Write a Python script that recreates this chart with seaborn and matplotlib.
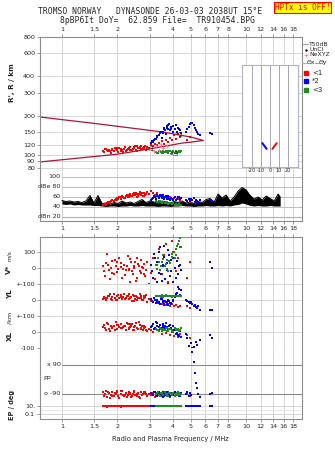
import numpy as np
import matplotlib
matplotlib.use("Agg")
import matplotlib.pyplot as plt
import seaborn as sns
from matplotlib.ticker import FixedLocator, NullLocator, FixedFormatter
from matplotlib.lines import Line2D

# ---------------- data ----------------
freq_ticks = [1, 1.5, 2, 3, 4, 5, 6, 7, 8, 10, 12, 14, 16, 18]
freq_labels = ['1', '1.5', '2', '3', '4', '5', '6', '7', '8', '10', '12', '14', '16', '18']
height_ticks = [80, 90, 100, 120, 150, 200, 300, 400, 600, 800]

# mode 1 (red) echoes
red_f = [1.68,1.70,1.73,1.76,1.80,1.84,1.88,1.92,1.96,2.00,2.04,2.08,2.12,2.17,2.22,2.27,2.32,2.37,2.42,2.47,
         2.52,2.58,2.64,2.70,2.76,2.82,2.90,2.97,3.05,3.12,3.20,3.28,3.38,3.48,3.58,3.68,3.78,3.88,3.98,4.08,
         4.18,4.28,4.38,4.75,4.95,
         1.71,1.78,1.86,1.94,2.02,2.10,2.19,2.25,2.30,2.35,2.40,2.45,2.50,2.55,2.61,2.67,2.73,2.79,2.85,1.82,
         1.99,2.14,2.34,2.56,2.78]
red_h = [108,106,111,109,110,105,112,107,111,109,113,107,110,112,108,111,114,109,112,115,110,113,116,111,114,
         118,116,113,120,117,122,119,124,128,122,132,126,136,130,142,134,146,138,132,137,
         112,107,109,113,106,111,115,109,112,116,110,113,117,108,114,118,112,115,110,108,114,106,110,117,112]
red_dbe = [44,46,45,48,50,52,55,53,57,58,60,56,62,59,63,61,65,62,67,64,68,63,70,66,62,65,70,66,72,68,64,69,62,
           65,60,63,58,61,56,59,55,57,53,52,50,
           47,51,54,55,57,61,58,64,60,66,63,69,65,61,67,64,68,63,66,49,55,60,63,66,69]
red_v = [10,-20,30,90,-10,0,45,-40,15,-25,60,5,-60,20,-15,75,-5,35,-35,10,-80,25,-20,50,0,-50,40,-100,-30,60,
         -70,20,120,-40,80,150,-90,30,170,100,-20,60,130,-60,40,
         -50,20,-30,50,-5,30,-45,10,-10,55,-20,0,40,-60,15,-30,5,25,-15,-70,35,-5,-90,65,-40]
red_yl = [8,20,2,15,28,5,18,35,0,22,12,30,8,40,15,25,5,18,30,-5,22,10,35,15,0,20,-10,5,-5,-15,0,-20,-12,-25,
          -18,-30,-22,-35,-28,-40,-32,-45,-38,-40,-48,
          12,25,0,10,30,18,5,22,35,12,-8,28,8,20,15,25,-2,10,30,38,3,20,10,0,25]
red_xl = [30,45,15,55,20,35,25,40,60,18,30,48,22,35,12,52,28,40,15,33,58,20,42,25,10,30,5,20,15,0,25,10,5,-10,
          15,-5,20,-20,0,-25,10,-30,-15,-20,-35,
          25,50,30,15,45,22,38,55,20,30,48,15,35,25,60,18,40,28,12,8,42,30,50,22,38]
red_pp = [-80,-100,-70,-110,-85,-95,-75,-105,-90,-80,-115,-88,-70,-100,-85,-95,-78,-108,-90,-72,-98,-86,-112,
          -80,-93,-76,-104,-88,-96,-82,-110,-90,-78,-100,-86,-94,-80,-106,-90,-84,-98,-76,-92,-88,-100,
          -92,-78,-104,-86,-100,-74,-96,-110,-82,-90,-102,-76,-94,-88,-106,-80,-98,-84,-92,-112,-70,-98,-86,
          -102,-80]
red_ep = [8,10,12,7,9,11,8,10,13,9,10,7,12,9,11,8,10,12,9,10,8,11,10,9,12,10,8,11,10,9,12,10,9,11,10,8,12,10,
          9,11,10,9,12,10,9,
          9,11,10,8,12,10,9,11,10,13,9,10,8,11,10,9,12,10,9,11,10,12,9,10,11]

# mode 2 (blue) echoes
nan = np.nan
blue_f = [3.05,3.12,3.18,3.24,3.30,3.36,3.42,3.48,3.54,3.60,3.66,3.72,3.78,3.84,3.92,4.02,4.12,4.20,4.28,4.36,
          4.42,4.72,4.80,4.88,4.95,5.02,5.10,5.18,5.25,5.32,5.40,5.50,5.60,6.40,6.50,
          3.10,3.20,3.28,3.38,3.45,3.52,3.58,3.64,3.70,3.76,3.82,3.90,4.00,4.15,4.32]
blue_h = [124,127,130,134,138,142,147,136,152,158,145,163,170,155,165,150,158,152,162,155,148,150,158,165,172,
          178,176,170,162,156,150,146,144,148,145,
          129,133,140,144,152,148,162,155,168,160,174,158,166,170,160]
blue_dbe = [55,58,62,57,64,60,65,59,63,58,62,56,60,55,58,54,60,57,61,56,59,55,53,57,52,56,54,58,51,55,53,50,54,
            55,52,
            57,60,63,59,62,65,57,61,58,63,56,59,57,55,60]
blue_v = [20,-60,90,-110,40,-30,130,-80,10,70,-120,-10,110,-50,50,-90,0,45,-40,20,-15,
          nan,nan,nan,nan,nan,nan,nan,nan,nan,nan,nan,nan,40,0,
          -20,60,-90,100,-40,20,140,-70,30,-100,80,-20,60,-60,10]
blue_yl = [5,-10,10,-20,0,-15,-25,8,-8,-30,-12,-22,0,-18,-28,-5,20,45,81,30,60,0,-8,-15,-20,-12,-28,-35,-30,
           -45,-52,-40,-60,-62,-65,
           -5,2,-12,-20,5,-10,-25,-5,-15,-30,-8,-20,-2,35,70]
blue_xl = [30,50,20,60,35,15,45,25,40,12,55,30,20,42,18,35,10,-5,-20,5,-30,-10,-40,-90,-110,-70,-100,-95,-120,
           -60,-80,-105,-50,-19,-38,
           40,25,55,30,18,48,22,35,28,15,38,25,10,-10,-25]
blue_pp = [-85,-95,-80,-105,-90,-75,-100,-88,-110,-82,-96,-78,-92,-104,-86,-98,-80,-94,-88,-102,-84,-92,-80,
           -100,-86,-96,170,110,40,-20,-50,-90,-110,-92,-86,
           -90,-80,-100,-86,-96,-78,-104,-88,-92,-84,-98,-82,-94,-90,-100]
blue_ep = [10,9,11,10,12,9,10,11,10,9,10,11,10,9,10,12,10,9,10,11,10,10,9,11,10,10,12,9,10,10,11,10,9,10,10,
           10,11,9,10,12,10,9,11,10,10,9,11,10,12,10]

# mode 3 (green) echoes
green_f = [3.25,3.32,3.40,3.48,3.55,3.62,3.70,3.78,3.86,3.94,4.02,4.10,4.18,4.26,4.32,4.38,4.44,
           3.28,3.36,3.44,3.52,3.66,3.74,3.82,3.98,4.14,4.22]
green_h = [106,104,108,105,107,106,108,105,107,106,108,105,107,106,108,106,107,
           105,107,106,104,107,106,108,105,106,104]
green_dbe = [52,50,53,49,51,48,50,47,49,46,48,45,47,44,46,45,44,
             51,52,50,50,49,49,48,47,46,45]
green_v = [20,60,-10,40,80,10,50,-20,30,70,100,60,120,150,170,185,130,
           -5,35,15,55,25,-5,45,90,80,140]
green_yl = [28,22,25,30,20,26,24,28,22,26,25,23,27,24,26,22,28,
            24,27,21,25,29,23,26,21,27,25]
green_xl = [20,10,25,5,18,12,28,8,20,15,0,22,10,18,5,15,25,
            15,8,20,12,25,5,18,10,20,12]
green_pp = [-90,-80,-100,-85,-95,-78,-92,-104,-86,-96,-82,-100,-88,-94,-84,-98,-90,
            -86,-96,-82,-94,-88,-100,-84,-92,-96,-86]
green_ep = [10,9,10,11,10,10,9,10,11,10,10,9,10,11,10,10,9,
            10,10,9,11,10,10,9,10,11,10]

# NeXYZ marks
nexyz_f = [3.15, 3.25, 3.35, 3.45, 3.55, 3.70]
nexyz_h = [108, 118, 110, 121, 113, 117]

# Theta x / Theta y wedge
wedge_f = [0.76, 1.51, 3.48, 5.0, 5.85, 5.0, 4.49, 3.0, 2.0, 0.76]
wedge_h = [196, 175, 151, 138, 130, 126, 124, 112, 102, 89]

# T50dB noise envelope
t50_f = [1.000,1.051,1.105,1.162,1.222,1.284,1.350,1.419,1.492,1.569,1.650,1.734,1.823,1.917,2.015,2.119,
         2.227,2.342,2.462,2.588,2.721,2.861,3.008,3.162,3.325,3.495,3.675,3.864,4.062,4.271,4.490,4.720,
         4.963,5.217,5.485,5.767,6.063,6.374,6.701,7.045,7.406,7.787,8.185,8.606,9.047,9.512,10.00,10.51,
         11.05,11.62,12.22,12.84,13.50,14.19,14.92,15.30]
t50_hi = [53,51,52,50,51,49,52,63,48,63,47,48,46,49,47,52,48,50,47,51,55,49,52,50,48,52,50,47,51,49,52,48,
          50,47,51,49,55,57,50,66,58,64,52,60,72,79,74,63,56,60,54,62,57,52,66,60]
t50_lo = [46,45,46,44,45,44,44,44,43,43,42,41,42,42,41,42,42,43,42,42,43,42,42,42,41,42,42,41,42,42,43,42,
          42,41,42,42,43,42,42,43,42,43,42,44,45,48,46,43,42,43,42,42,43,42,42,42]

# tilt inset
tilt_blue = [-8.5, -3.7]
tilt_blue_h = [124, 112]
tilt_red = [2.6, 7.4]
tilt_red_h = [112, 124]
tilt_ticks = [-20, -10, 0, 10, 20]

# ---------------- styling ----------------
sns.set_style("white")
plt.rcParams['font.family'] = ['DejaVu Sans']

W, H = 335, 451
fig = plt.figure(figsize=(W / 100, H / 100), dpi=100)

FRAME = '#8c8c8c'
GRID = '#d0d0d0'
RED, BLUE, GREEN = '#ff0000', '#0000ff', '#1e8c1e'
FS = 4.6
FMIN, FMAX = 0.76, 20.1
XL0 = (62 - 40) / 262.0
MS = 4


def rect(top, bottom, left=40, right=302):
    return [left / W, 1 - bottom / H, (right - left) / W, (bottom - top) / H]


def base(ax, top=False, bottom=False, show=True):
    ax.set_xscale('log')
    ax.set_xlim(FMIN, FMAX)
    ax.xaxis.set_major_locator(FixedLocator(freq_ticks))
    ax.xaxis.set_minor_locator(NullLocator())
    ax.xaxis.set_major_formatter(FixedFormatter(freq_labels))
    ax.tick_params(axis='x', which='both', top=top, bottom=bottom, labeltop=top and show,
                   labelbottom=bottom and show, labelsize=FS, length=2.5, width=0.6,
                   color=FRAME, pad=1.2, direction='out')
    ax.tick_params(axis='y', which='both', left=False, right=False, labelleft=False,
                   labelsize=FS, length=2.5, width=0.6, color=FRAME, pad=1.0, direction='out')
    ax.grid(axis='x', color=GRID, lw=0.6, zorder=0)
    ax.set_facecolor('white')
    for s in ax.spines.values():
        s.set_color(FRAME)
        s.set_linewidth(0.8)
    ax.set_xlabel('')
    ax.set_ylabel('')


def scat(ax, x, y, c, s=MS):
    sns.scatterplot(x=x, y=y, ax=ax, color=c, marker='s', s=s, linewidth=0, zorder=3)


# ---------------- height panel ----------------
ax_h = fig.add_axes(rect(37, 172))
ax_h.set_yscale('log')
base(ax_h, top=True)
ax_h.set_ylim(74.6, 800)
ax_h.yaxis.set_major_locator(FixedLocator(height_ticks))
ax_h.yaxis.set_minor_locator(NullLocator())
ax_h.yaxis.set_major_formatter(FixedFormatter([str(v) for v in height_ticks]))
ax_h.tick_params(axis='y', left=True, labelleft=True)
ax_h.grid(axis='y', color=GRID, lw=0.6)
ax_h.spines['bottom'].set_visible(False)

sns.lineplot(x=wedge_f, y=wedge_h, ax=ax_h, color='#a8163a', lw=0.9, sort=False, estimator=None, zorder=2)
scat(ax_h, red_f, red_h, RED)
scat(ax_h, blue_f, blue_h, BLUE)
scat(ax_h, green_f, green_h, GREEN)
sns.scatterplot(x=nexyz_f, y=nexyz_h, ax=ax_h, color='#ff80a0', marker='+', s=10, linewidth=0.6, zorder=4)
ax_h.text(3.0, 112, '<1', fontsize=5, ha='center', va='center', zorder=5)
ax_h.text(4.37, 143, '*2', fontsize=5, ha='center', va='center', zorder=5)
ax_h.text(4.02, 103, '<3', fontsize=5, ha='center', va='center', zorder=5)
ax_h.set_xlabel('')
ax_h.set_ylabel('')

# tilt inset
ax_in = fig.add_axes(rect(65, 167, 242, 298))
ax_in.set_facecolor('white')
ax_in.set_yscale('log')
ax_in.set_xlim(-31, 31)
ax_in.set_ylim(81.5, 489)
ax_in.xaxis.set_major_locator(FixedLocator(tilt_ticks))
ax_in.xaxis.set_major_formatter(FixedFormatter(['-20', '-10', '0', '10', '20']))
ax_in.yaxis.set_major_locator(NullLocator())
ax_in.yaxis.set_minor_locator(NullLocator())
ax_in.tick_params(axis='x', labelsize=3.6, length=0, pad=0.8)
ax_in.grid(axis='x', color='#a4a4bc', lw=0.7)
for s in ax_in.spines.values():
    s.set_color('#b0b0c8')
    s.set_linewidth(0.8)
sns.lineplot(x=tilt_blue, y=tilt_blue_h, ax=ax_in, color=BLUE, lw=1.4, sort=False, estimator=None)
sns.lineplot(x=tilt_red, y=tilt_red_h, ax=ax_in, color=RED, lw=1.4, sort=False, estimator=None)
ax_in.set_xlabel('Tilt / deg', fontsize=3.6, labelpad=0)
ax_in.set_ylabel('')

# ---------------- dBe panel ----------------
ax_d = fig.add_axes(rect(172, 221))
base(ax_d, bottom=True)
ax_d.set_ylim(12, 110)
ax_d.spines['top'].set_visible(False)
for v in [40, 60, 80, 100]:
    ax_d.axhline(v, xmin=XL0, color='#bdbdbd', lw=0.7, zorder=1)
ax_d.axhline(20, xmin=XL0, color='#a8a8e8', lw=0.8, zorder=1)
for v, t in [(100, '100'), (80, 'dBe 80'), (60, '60'), (40, '40'), (20, 'dBn 20')]:
    ax_d.text(0.985, v, t, fontsize=FS, ha='right', va='center')
ax_d.fill_between(t50_f, t50_lo, t50_hi, color='black', lw=0, zorder=2)
sns.lineplot(x=t50_f, y=t50_hi, ax=ax_d, color='black', lw=0.7, sort=False, estimator=None, zorder=2)
scat(ax_d, red_f, red_dbe, RED)
scat(ax_d, blue_f, blue_dbe, BLUE)
scat(ax_d, green_f, green_dbe, GREEN)
ax_d.set_xlabel('')
ax_d.set_ylabel('')

# ---------------- lower stack ----------------
ax_v = fig.add_axes(rect(237, 284))
ax_y = fig.add_axes(rect(284, 316))
ax_x = fig.add_axes(rect(316, 348))
ax_p = fig.add_axes(rect(348, 401))
ax_e = fig.add_axes(rect(401, 419))
stack = [ax_v, ax_y, ax_x, ax_p, ax_e]
for i, ax in enumerate(stack):
    base(ax, top=(i == 0), bottom=(i == 4), show=(i == 4))
    if i > 0:
        ax.spines['top'].set_visible(False)
    if i < 4:
        ax.spines['bottom'].set_visible(False)

ax_v.set_ylim(-100, 194)
ax_y.set_ylim(-100, 100)
ax_x.set_ylim(-100, 100)
ax_p.set_ylim(-133.5, 195.5)
ax_e.set_yscale('log')
ax_e.set_ylim(10 ** -2.25, 10 ** 2.25)

for ax, ticks, labels in [(ax_v, [100, 0], ['100', '0']),
                          (ax_y, [100, 0], ['+-100', '0']),
                          (ax_x, [100, 0, -100], ['+-100', '0', '-100']),
                          (ax_e, [10, 0.1], ['10.', '0.1'])]:
    ax.yaxis.set_major_locator(FixedLocator(ticks))
    ax.yaxis.set_minor_locator(NullLocator())
    ax.yaxis.set_major_formatter(FixedFormatter(labels))
    ax.tick_params(axis='y', left=True, labelleft=True)
    for t in ticks:
        ax.axhline(t, color=GRID, lw=0.6, zorder=1, clip_on=False)
ax_e.axhline(1, color='#e4e4e4', lw=0.6, zorder=1)
ax_p.yaxis.set_major_locator(NullLocator())
for v, t in [(90, 'x 90'), (-90, 'o -90')]:
    ax_p.axhline(v, xmin=XL0, color='#8a8a8a', lw=0.8, zorder=1)
    ax_p.text(0.985, v, t, fontsize=FS, ha='right', va='center')
ax_p.text(0.79, 9, 'PP', fontsize=FS, ha='left', va='center')

for ax, r, b, g in [(ax_v, red_v, blue_v, green_v), (ax_y, red_yl, blue_yl, green_yl),
                    (ax_x, red_xl, blue_xl, green_xl), (ax_p, red_pp, blue_pp, green_pp),
                    (ax_e, red_ep, blue_ep, green_ep)]:
    scat(ax, red_f, r, RED)
    scat(ax, blue_f, b, BLUE)
    scat(ax, green_f, g, GREEN)
    ax.set_xlabel('')
    ax.set_ylabel('')

# ---------------- texts ----------------
mono = ['DejaVu Sans Mono']
fig.text(150 / W, 1 - 12 / H, 'TROMSO NORWAY   DYNASONDE 26-03-03 2038UT 15\u00b0E',
         fontsize=5.8, family=mono, ha='center', va='center')
fig.text(158 / W, 1 - 20.5 / H, '8pBP6It DoY=  62.859 File=  TR910454.BPG',
         fontsize=5.8, family=mono, ha='center', va='center')
fig.text(302.5 / W, 1 - 7.5 / H, 'HPTx is OFF!', fontsize=5.6, family=mono, color='red',
         ha='center', va='center',
         bbox=dict(boxstyle='square,pad=0.15', fc='#ffff00', ec='red', lw=0.8))

bold = dict(fontweight='bold', rotation=90, ha='center', va='center')
fig.text(12 / W, 1 - 83 / H, "R', R / km", fontsize=5.2, **bold)
fig.text(9 / W, 1 - 269 / H, 'V*', fontsize=5.2, **bold)
fig.text(9 / W, 1 - 256 / H, 'm/s', fontsize=4.2, rotation=90, ha='center', va='center')
fig.text(10 / W, 1 - 294 / H, 'YL', fontsize=5.2, **bold)
fig.text(10 / W, 1 - 318 / H, '/km', fontsize=4.6, rotation=90, ha='center', va='center')
fig.text(10 / W, 1 - 336 / H, 'XL', fontsize=5.2, **bold)
fig.text(12 / W, 1 - 405 / H, 'EP / deg', fontsize=4.8, **bold)
fig.text(170 / W, 1 - 439 / H, 'Radio and Plasma Frequency / MHz', fontsize=4.8, ha='center', va='center')

# legend block on the right
items = [(44, 'T50dB'), (49.5, 'UnCl'), (55, 'NeXYZ')]
for y, t in items:
    fig.text(309 / W, 1 - y / H, t, fontsize=4.4, ha='left', va='center')
fig.add_artist(Line2D([303 / W, 308 / W], [1 - 44 / H] * 2, color='#a0a0a0', lw=0.8))
fig.add_artist(Line2D([306 / W], [1 - 49.5 / H], color='black', marker='.', ms=1.5, lw=0))
fig.add_artist(Line2D([306 / W], [1 - 55 / H], color='#ff80a0', marker='+', ms=3, mew=0.6, lw=0))
fig.add_artist(Line2D([302 / W, 307 / W], [1 - 62.5 / H] * 2, color='#ff90a0', lw=0.8))
fig.text(307 / W, 1 - 62.5 / H, '\u0398x', fontsize=4.4, ha='left', va='center')
fig.add_artist(Line2D([315 / W, 319 / W], [1 - 62.5 / H] * 2, color='#9090ff', lw=0.8))
fig.text(319 / W, 1 - 62.5 / H, '\u0398y', fontsize=4.4, ha='left', va='center')
for y, c, t in [(73, RED, '<1'), (81, BLUE, '*2'), (90, GREEN, '<3')]:
    fig.add_artist(Line2D([306 / W], [1 - y / H], color=c, marker='s', ms=2.2, lw=0))
    fig.text(312 / W, 1 - y / H, t, fontsize=5, ha='left', va='center')

fig.savefig('out.png', dpi=100)
